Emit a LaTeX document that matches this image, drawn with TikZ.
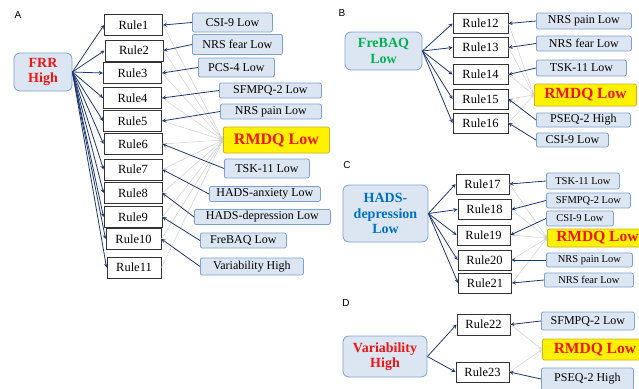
\documentclass[tikz,border=0pt]{standalone}
\usepackage{fontspec}
\setmainfont{Liberation Serif}
\newfontfamily\panelfont{Liberation Sans}
\usepackage{tikz}
\usetikzlibrary{arrows, positioning}
\definecolor{condfill}{RGB}{220,230,242}
\definecolor{condedge}{RGB}{126,160,204}
\definecolor{arrowblue}{RGB}{31,56,112}
\definecolor{rmdqedge}{RGB}{205,175,30}
\definecolor{rootred}{RGB}{238,22,22}
\definecolor{rootgreen}{RGB}{0,176,80}
\definecolor{rootblue}{RGB}{0,112,192}
\tikzstyle{rulebox} = [rectangle, draw=black!80, line width=0.9pt, fill=white, minimum width=56pt, minimum height=20pt, inner sep=0pt, font=\fontsize{12.5}{14}\selectfont]
\tikzstyle{cond} = [rectangle, rounded corners=2pt, draw=condedge, line width=0.8pt, fill=condfill, inner sep=0pt, anchor=west, font=\fontsize{12}{14}\selectfont]
\tikzstyle{condsmall} = [cond, font=\fontsize{10.5}{12}\selectfont]
\tikzstyle{target} = [rectangle, rounded corners=2pt, draw=rmdqedge, line width=0.8pt, fill=yellow, text=rootred, inner sep=0pt, anchor=west, font=\fontsize{15.5}{18}\selectfont\bfseries]
\tikzstyle{root} = [rectangle, rounded corners=6pt, draw=condedge, line width=0.8pt, fill=condfill, align=center, inner sep=0pt, font=\fontsize{14}{15.5}\selectfont\bfseries]
\tikzstyle{arrow} = [line width=0.8pt, arrowblue, ->, >=stealth]
\tikzstyle{grayline} = [line width=0.5pt, black!18, ->, >=stealth]
\tikzstyle{panel} = [font=\panelfont\fontsize{10}{12}\selectfont]

\begin{document}
\begin{tikzpicture}[x=1pt, y=-1pt]
	\useasboundingbox (0,0) rectangle (639,388);
	% panel A
	\node (LabelA) [panel] at (18,15) {A};
	\node (FRR) [root, text=rootred, minimum width=58pt, minimum height=38pt] at (43,72) {FRR\\High};
	\node (Rule1) [rulebox, minimum width=58pt, minimum height=21pt] at (133.5,25) {Rule1};
	\node (Rule2) [rulebox, minimum width=58pt, minimum height=21pt] at (134,50.5) {Rule2};
	\node (Rule3) [rulebox, minimum width=58pt, minimum height=21pt] at (132.5,73) {Rule3};
	\node (Rule4) [rulebox, minimum width=58pt, minimum height=21pt] at (132.5,98) {Rule4};
	\node (Rule5) [rulebox, minimum width=58pt, minimum height=21pt] at (132.5,121) {Rule5};
	\node (Rule6) [rulebox, minimum width=58pt, minimum height=21pt] at (133,144) {Rule6};
	\node (Rule7) [rulebox, minimum width=58pt, minimum height=21pt] at (133,169.5) {Rule7};
	\node (Rule8) [rulebox, minimum width=58pt, minimum height=21pt] at (133,193) {Rule8};
	\node (Rule9) [rulebox, minimum width=58pt, minimum height=21pt] at (133,217) {Rule9};
	\node (Rule10) [rulebox, minimum width=55pt, minimum height=21pt] at (133.5,239) {Rule10};
	\node (Rule11) [rulebox, minimum width=54pt, minimum height=21pt] at (134,267.5) {Rule11};
	\node (RMDQa) [target, minimum width=106pt, minimum height=26pt, font=\fontsize{16}{18}\selectfont\bfseries] at (223,140) {RMDQ Low};
	\draw [grayline] (Rule1.east) -- (RMDQa.west);
	\draw [grayline] (Rule2.east) -- (RMDQa.west);
	\draw [grayline] (Rule3.east) -- (RMDQa.west);
	\draw [grayline] (Rule4.east) -- (RMDQa.west);
	\draw [grayline] (Rule5.east) -- (RMDQa.west);
	\draw [grayline] (Rule6.east) -- (RMDQa.west);
	\draw [grayline] (Rule7.east) -- (RMDQa.west);
	\draw [grayline] (Rule8.east) -- (RMDQa.west);
	\draw [grayline] (Rule9.east) -- (RMDQa.west);
	\draw [grayline] (Rule10.east) -- (RMDQa.west);
	\draw [grayline] (Rule11.east) -- (RMDQa.west);
	\node (CSIa) [cond, minimum width=80pt, minimum height=19pt] at (192,22.5) {CSI-9 Low};
	\node (FEARa) [cond, minimum width=90pt, minimum height=20pt] at (192,44.5) {NRS fear Low};
	\node (PCSa) [cond, minimum width=76pt, minimum height=19pt] at (198,67.5) {PCS-4 Low};
	\node (SFMPQa) [cond, minimum width=102pt, minimum height=15pt] at (219,90.5) {SFMPQ-2 Low};
	\node (PAINa) [cond, minimum width=101pt, minimum height=15pt] at (220,111.5) {NRS pain Low};
	\node (TSKa) [cond, minimum width=85pt, minimum height=19pt] at (224,168.5) {TSK-11 Low};
	\node (ANXa) [cond, minimum width=111pt, minimum height=15pt] at (209,194) {HADS-anxiety Low};
	\node (DEPa) [cond, minimum width=136pt, minimum height=15pt] at (194,217) {HADS-depression Low};
	\node (FREBAQa) [cond, minimum width=86pt, minimum height=15pt] at (200,240.5) {FreBAQ Low};
	\node (VARa) [cond, minimum width=103pt, minimum height=17pt] at (200,266.5) {Variability High};
	\draw [arrow] (FRR.east) -- (Rule1.west);
	\draw [arrow] (FRR.east) -- (Rule2.west);
	\draw [arrow] (FRR.east) -- (Rule3.west);
	\draw [arrow] (FRR.east) -- (Rule4.west);
	\draw [arrow] (FRR.east) -- (Rule5.west);
	\draw [arrow] (FRR.east) -- (Rule6.west);
	\draw [arrow] (FRR.east) -- (Rule7.west);
	\draw [arrow] (FRR.east) -- (Rule8.west);
	\draw [arrow] (FRR.east) -- (Rule9.west);
	\draw [arrow] (FRR.east) -- (Rule10.west);
	\draw [arrow] (FRR.east) -- (Rule11.west);
	\draw [arrow] (CSIa.west) -- (Rule1.east);
	\draw [arrow] (FEARa.west) -- (Rule2.east);
	\draw [arrow] (PCSa.west) -- (Rule3.east);
	\draw [arrow] (SFMPQa.west) -- (Rule4.east);
	\draw [arrow] (PAINa.west) -- (Rule5.east);
	\draw [arrow] (TSKa.west) -- (Rule6.east);
	\draw [arrow] (ANXa.west) -- (Rule7.east);
	\draw [arrow] (DEPa.west) -- (Rule8.east);
	\draw [arrow] (FREBAQa.west) -- (Rule9.east);
	\draw [arrow] (VARa.west) -- (Rule10.east);

	% panel B
	\node (LabelB) [panel] at (342,13) {B};
	\node (FreBAQ) [root, text=rootgreen, minimum width=77pt, minimum height=38pt] at (383.5,51) {FreBAQ\\Low};
	\node (Rule12) [rulebox, minimum width=55pt, minimum height=20pt] at (480.5,23.5) {Rule12};
	\node (Rule13) [rulebox, minimum width=55pt, minimum height=20pt] at (480.5,47.5) {Rule13};
	\node (Rule14) [rulebox, minimum width=55pt, minimum height=20pt] at (480.5,74.5) {Rule14};
	\node (Rule15) [rulebox, minimum width=55pt, minimum height=20pt] at (480.5,99) {Rule15};
	\node (Rule16) [rulebox, minimum width=55pt, minimum height=20pt] at (480.5,123) {Rule16};
	\node (RMDQb) [target, minimum width=102pt, minimum height=22pt] at (534,95) {RMDQ Low};
	\draw [grayline] (Rule12.east) -- (RMDQb.west);
	\draw [grayline] (Rule13.east) -- (RMDQb.west);
	\draw [grayline] (Rule14.east) -- (RMDQb.west);
	\draw [grayline] (Rule15.east) -- (RMDQb.west);
	\draw [grayline] (Rule16.east) -- (RMDQb.west);
	\node (PAINb) [cond, minimum width=95pt, minimum height=16pt] at (536,21) {NRS pain Low};
	\node (FEARb) [cond, minimum width=95pt, minimum height=15pt] at (536,43.5) {NRS fear Low};
	\node (TSKb) [cond, minimum width=90pt, minimum height=16pt] at (536,68) {TSK-11 Low};
	\node (PSEQb) [cond, minimum width=94pt, minimum height=14pt] at (536,120) {PSEQ-2 High};
	\node (CSIb) [cond, minimum width=72pt, minimum height=14pt] at (536,140) {CSI-9 Low};
	\draw [arrow] (FreBAQ.east) -- (Rule12.west);
	\draw [arrow] (FreBAQ.east) -- (Rule13.west);
	\draw [arrow] (FreBAQ.east) -- (Rule14.west);
	\draw [arrow] (FreBAQ.east) -- (Rule15.west);
	\draw [arrow] (FreBAQ.east) -- (Rule16.west);
	\draw [arrow] (PAINb.west) -- (Rule12.east);
	\draw [arrow] (FEARb.west) -- (Rule13.east);
	\draw [arrow] (TSKb.west) -- (Rule14.east);
	\draw [arrow] (PSEQb.west) -- (Rule15.east);
	\draw [arrow] (CSIb.west) -- (Rule16.east);

	% panel C
	\node (LabelC) [panel] at (347,165) {C};
	\node (HADS) [root, text=rootblue, minimum width=85pt, minimum height=57pt] at (385.5,213.5) {HADS-\\depression\\Low};
	\node (Rule17) [rulebox, minimum width=53pt, minimum height=20pt] at (482.5,184) {Rule17};
	\node (Rule18) [rulebox, minimum width=53pt, minimum height=20pt] at (484.5,209.5) {Rule18};
	\node (Rule19) [rulebox, minimum width=53pt, minimum height=20pt] at (483.5,235) {Rule19};
	\node (Rule20) [rulebox, minimum width=53pt, minimum height=20pt] at (484.5,260) {Rule20};
	\node (Rule21) [rulebox, minimum width=53pt, minimum height=20pt] at (485,283) {Rule21};
	\node (RMDQc) [target, minimum width=100pt, minimum height=18pt] at (547,238) {RMDQ Low};
	\draw [grayline] (Rule17.east) -- (RMDQc.west);
	\draw [grayline] (Rule18.east) -- (RMDQc.west);
	\draw [grayline] (Rule19.east) -- (RMDQc.west);
	\draw [grayline] (Rule20.east) -- (RMDQc.west);
	\draw [grayline] (Rule21.east) -- (RMDQc.west);
	\node (TSKc) [condsmall, minimum width=73pt, minimum height=16pt] at (546,181) {TSK-11 Low};
	\node (SFMPQc) [condsmall, minimum width=84pt, minimum height=15pt] at (546,200.5) {SFMPQ-2 Low};
	\node (CSIc) [condsmall, minimum width=67pt, minimum height=15pt] at (546,218.5) {CSI-9 Low};
	\node (PAINc) [condsmall, minimum width=86pt, minimum height=14pt] at (546,260) {NRS pain Low};
	\node (FEARc) [condsmall, minimum width=89pt, minimum height=14pt] at (544,280) {NRS fear Low};
	\draw [arrow] (HADS.east) -- (Rule17.west);
	\draw [arrow] (HADS.east) -- (Rule18.west);
	\draw [arrow] (HADS.east) -- (Rule19.west);
	\draw [arrow] (HADS.east) -- (Rule20.west);
	\draw [arrow] (HADS.east) -- (Rule21.west);
	\draw [arrow] (TSKc.west) -- (Rule17.east);
	\draw [arrow] (SFMPQc.west) -- (Rule18.east);
	\draw [arrow] (CSIc.west) -- (Rule19.east);
	\draw [arrow] (PAINc.west) -- (Rule20.east);
	\draw [arrow] (FEARc.west) -- (Rule21.east);

	% panel D
	\node (LabelD) [panel] at (346,303) {D};
	\node (Variability) [root, text=rootred, minimum width=84pt, minimum height=41pt] at (385,356.5) {Variability\\High};
	\node (Rule22) [rulebox, minimum width=53pt, minimum height=21pt] at (483.5,324.5) {Rule22};
	\node (Rule23) [rulebox, minimum width=53pt, minimum height=20pt] at (482.5,372) {Rule23};
	\node (RMDQd) [target, minimum width=105pt, minimum height=21pt] at (542,349.5) {RMDQ Low};
	\draw [grayline] (Rule22.east) -- (RMDQd.west);
	\draw [grayline] (Rule23.east) -- (RMDQd.west);
	\node (SFMPQd) [cond, minimum width=93pt, minimum height=18pt] at (541,321) {SFMPQ-2 Low};
	\node (PSEQd) [cond, minimum width=92pt, minimum height=22pt] at (541,379) {PSEQ-2 High};
	\draw [arrow] (Variability.east) -- (Rule22.west);
	\draw [arrow] (Variability.east) -- (Rule23.west);
	\draw [arrow] (SFMPQd.west) -- (Rule22.east);
	\draw [arrow] (PSEQd.west) -- (Rule23.east);
\end{tikzpicture}
\end{document}
